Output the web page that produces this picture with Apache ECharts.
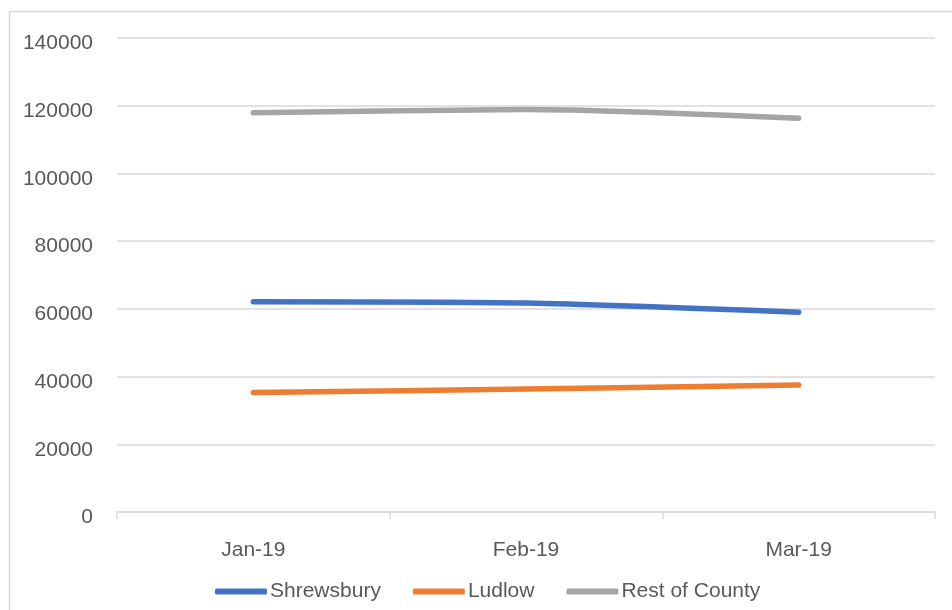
<!DOCTYPE html>
<html>
<head>
<meta charset="utf-8">
<script src="https://cdn.jsdelivr.net/npm/echarts@6/dist/echarts.min.js"></script>
<style>
  html, body { margin: 0; padding: 0; background: #fff; }
  #chart { width: 952px; height: 610px; }
</style>
</head>
<body>
<div id="chart"></div>
<script>
// Monthly totals by area
const months = ['Jan-19', 'Feb-19', 'Mar-19'];
const shrewsbury = [62100, 61700, 59000];
const ludlow = [35300, 36300, 37500];
const restOfCounty = [117900, 118900, 116300];

const textColor = '#595959';
const gridColor = '#d9d9d9';
const fontFamily = '"Liberation Sans", Arial, sans-serif';

const chart = echarts.init(document.getElementById('chart'), null, { renderer: 'canvas' });

function lineSeries(name, data, color) {
  return {
    name: name,
    type: 'line',
    data: data,
    smooth: 0.25,
    symbol: 'none',
    lineStyle: { color: color, width: 5.5, cap: 'round', join: 'round' },
    itemStyle: { color: color }
  };
}

chart.setOption({
  animation: false,
  backgroundColor: '#fff',
  graphic: [{
    type: 'rect',
    left: 7, top: 9,
    shape: { width: 1000, height: 700 },
    style: { fill: 'none', stroke: gridColor, lineWidth: 1.5 },
    silent: true,
    z: -1
  }],
  grid: { left: 117, right: 17, top: 38, bottom: 98 },
  xAxis: {
    type: 'category',
    data: months,
    boundaryGap: true,
    axisLine: { show: true, lineStyle: { color: gridColor, width: 1.5 } },
    axisTick: { show: true, length: 7, lineStyle: { color: gridColor, width: 1.5 } },
    axisLabel: { color: textColor, fontSize: 21, fontFamily: fontFamily, margin: 28 }
  },
  yAxis: {
    type: 'value',
    min: 0, max: 140000, interval: 20000,
    axisLine: { show: false },
    axisTick: { show: false },
    splitLine: { lineStyle: { color: gridColor, width: 1.5 } },
    axisLabel: {
      color: textColor, fontSize: 21, fontFamily: fontFamily, margin: 24,
      verticalAlign: 'top',
      lineHeight: 11,
      formatter: function (v) { return String(v); }
    }
  },
  legend: {
    bottom: 3,
    left: 210,
    itemWidth: 52,
    itemHeight: 6,
    itemGap: 32,
    icon: 'roundRect',
    textStyle: { color: textColor, fontSize: 21, fontFamily: fontFamily, padding: [0, 0, 0, -2] },
    data: ['Shrewsbury', 'Ludlow', 'Rest of County']
  },
  series: [
    lineSeries('Shrewsbury', shrewsbury, '#4472C4'),
    lineSeries('Ludlow', ludlow, '#ED7D31'),
    lineSeries('Rest of County', restOfCounty, '#A5A5A5')
  ]
});
</script>
</body>
</html>
